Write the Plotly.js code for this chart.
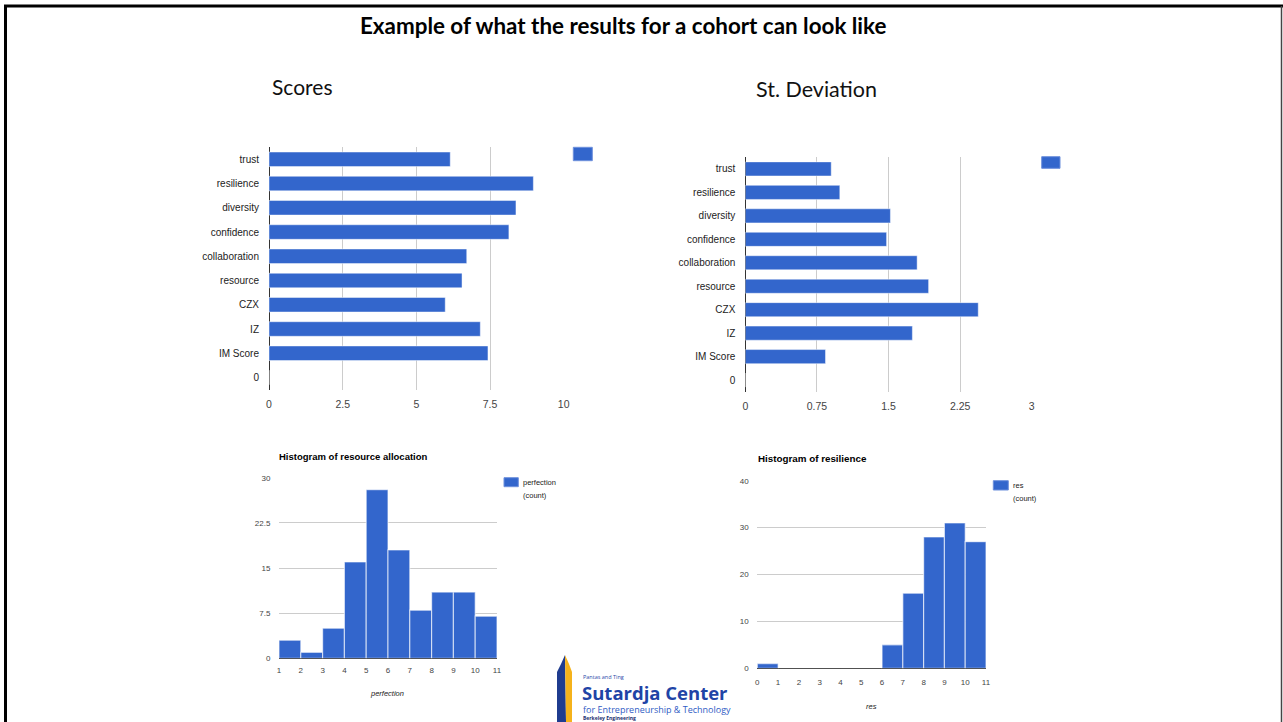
<!DOCTYPE html>
<html>
<head>
<meta charset="utf-8">
<script src="https://cdn.plot.ly/plotly-3.0.1.min.js"></script>
<style>
html,body{margin:0;padding:0;background:#fff;}
#chart{width:1283px;height:722px;}
</style>
</head>
<body>
<div id="chart"></div>
<script>
// ---------- data ----------
const categories = ['trust','resilience','diversity','confidence','collaboration','resource','CZX','IZ','IM Score','0'];
const scoreValues = [6.15, 8.97, 8.38, 8.14, 6.71, 6.55, 5.98, 7.17, 7.43, 0];
const stdevValues = [0.90, 0.99, 1.52, 1.48, 1.80, 1.92, 2.44, 1.75, 0.84, 0];

const scoreTicks = [0, 2.5, 5, 7.5, 10];
const scoreTickText = ['0','2.5','5','7.5','10'];
const stdevTicks = [0, 0.75, 1.5, 2.25, 3];
const stdevTickText = ['0','0.75','1.5','2.25','3'];

const resourceBinStarts = [1,2,3,4,5,6,7,8,9,10];
const resourceCounts    = [3,1,5,16,28,18,8,11,11,7];
const resourceXTicks = [1,2,3,4,5,6,7,8,9,10,11];
const resourceYTicks = [0,7.5,15,22.5,30];
const resourceYText  = ['0','7.5','15','22.5','30'];

const resilienceBinStarts = [0,1,2,3,4,5,6,7,8,9,10];
const resilienceCounts    = [1,0,0,0,0,0,5,16,28,31,27];
const resilienceXTicks = [0,1,2,3,4,5,6,7,8,9,10,11];
const resilienceYTicks = [0,10,20,30,40];

// ---------- helpers (pixel -> paper) ----------
const W = 1283, H = 722;
const fx = x => x / W;
const fy = y => 1 - y / H;

const BLUE = '#3366cc';
const SANS = '"Liberation Sans", Arial, sans-serif';
const BAR_LINE = {color: 'rgba(255,255,255,0.45)', width: 1};

const traces = [
  {type:'bar', orientation:'h', x: scoreValues, y: categories, xaxis:'x', yaxis:'y',
   width: 0.6, marker:{color: BLUE, line: BAR_LINE}, hoverinfo:'skip'},
  {type:'bar', orientation:'h', x: stdevValues, y: categories, xaxis:'x2', yaxis:'y2',
   width: 0.6, marker:{color: BLUE, line: BAR_LINE}, hoverinfo:'skip'},
  {type:'bar', x: resourceBinStarts, y: resourceCounts, xaxis:'x3', yaxis:'y3',
   width: 1, offset: 0, marker:{color: BLUE, line:{color:'rgba(255,255,255,0.6)', width:1.2}}, hoverinfo:'skip'},
  {type:'bar', x: resilienceBinStarts, y: resilienceCounts, xaxis:'x4', yaxis:'y4',
   width: 1, offset: 0, marker:{color: BLUE, line:{color:'rgba(255,255,255,0.6)', width:1.2}}, hoverinfo:'skip'}
];

const hbarX = (dom, rng, tv, tt) => ({
  domain: dom, range: rng, tickvals: tv, ticktext: tt,
  showgrid: true, gridcolor: '#cccccc', gridwidth: 1,
  zeroline: true, zerolinecolor: '#333333', zerolinewidth: 1,
  showline: false, ticks: 'outside', ticklen: 5, tickcolor: 'rgba(0,0,0,0)',
  tickfont: {family: SANS, size: 10.5, color: '#444444'}, fixedrange: true
});
const hbarY = (dom, anchor) => ({
  domain: dom, type: 'category', range: [9.5, -0.5], anchor: anchor,
  showgrid: false, zeroline: false, showline: false,
  ticks: 'outside', ticklen: 7, tickcolor: 'rgba(0,0,0,0)',
  tickfont: {family: SANS, size: 10, color: '#222222'}, fixedrange: true
});
const histFont = {family: SANS, size: 8, color: '#444'};

const layout = {
  width: W, height: H,
  margin: {l:0, r:0, t:0, b:0, pad:0},
  paper_bgcolor: '#ffffff', plot_bgcolor: 'rgba(0,0,0,0)',
  showlegend: false,
  font: {family: SANS, color: '#222'},

  xaxis: Object.assign(hbarX([fx(269), fx(563.7)], [0, 10], scoreTicks, scoreTickText), {anchor:'y'}),
  yaxis: hbarY([fy(389.6), fy(147.2)], 'x'),

  xaxis2: Object.assign(hbarX([fx(745.3), fx(1031.7)], [0, 3], stdevTicks, stdevTickText), {anchor:'y2'}),
  yaxis2: hbarY([fy(391.8), fy(157.2)], 'x2'),

  xaxis3: {domain: [fx(279), fx(497)], range: [1, 11], anchor: 'y3', tickvals: resourceXTicks,
           showgrid: false, zeroline: false, showline: false,
           ticks: 'outside', ticklen: 4, tickcolor: 'rgba(0,0,0,0)',
           tickfont: histFont, fixedrange: true},
  yaxis3: {domain: [fy(658.3), fy(477.7)], range: [0, 30], anchor: 'x3',
           tickvals: resourceYTicks, ticktext: resourceYText,
           showgrid: true, gridcolor: '#cccccc', zeroline: true, zerolinecolor: '#333333', zerolinewidth: 1,
           showline: false, ticks: 'outside', ticklen: 6, tickcolor: 'rgba(0,0,0,0)',
           tickfont: histFont, fixedrange: true},

  xaxis4: {domain: [fx(757.3), fx(986)], range: [0, 11], anchor: 'y4', tickvals: resilienceXTicks,
           showgrid: false, zeroline: false, showline: false,
           ticks: 'outside', ticklen: 6, tickcolor: 'rgba(0,0,0,0)',
           tickfont: histFont, fixedrange: true},
  yaxis4: {domain: [fy(668.3), fy(480.7)], range: [0, 40], anchor: 'x4',
           tickvals: resilienceYTicks,
           showgrid: true, gridcolor: '#cccccc', zeroline: true, zerolinecolor: '#333333', zerolinewidth: 1,
           showline: false, ticks: 'outside', ticklen: 6, tickcolor: 'rgba(0,0,0,0)',
           tickfont: histFont, fixedrange: true},

  shapes: [
    // slide border
    {type:'line', xref:'paper', yref:'paper', x0: fx(5.5), x1: fx(5.5), y0: fy(5), y1: fy(722), line:{color:'#000', width:3}},
    {type:'line', xref:'paper', yref:'paper', x0: fx(4), x1: fx(1283), y0: fy(6), y1: fy(6), line:{color:'#000', width:3}},
    {type:'line', xref:'paper', yref:'paper', x0: fx(1281.5), x1: fx(1281.5), y0: fy(6), y1: fy(722), line:{color:'#444', width:1.5}},
    // legend swatches
    {type:'rect', xref:'paper', yref:'paper', x0: fx(573.3), x1: fx(592.3), y0: fy(160.7), y1: fy(147.3), fillcolor: BLUE, line:{color:'#6d8fdc', width:1}},
    {type:'rect', xref:'paper', yref:'paper', x0: fx(1041.7), x1: fx(1060), y0: fy(168.3), y1: fy(156.7), fillcolor: BLUE, line:{color:'#6d8fdc', width:1}},
    {type:'rect', xref:'paper', yref:'paper', x0: fx(504), x1: fx(518.3), y0: fy(486.7), y1: fy(477.7), fillcolor: BLUE, line:{color:'#6d8fdc', width:1}},
    {type:'rect', xref:'paper', yref:'paper', x0: fx(993.3), x1: fx(1008.3), y0: fy(490), y1: fy(480.7), fillcolor: BLUE, line:{color:'#6d8fdc', width:1}},
    // logo tower
    {type:'path', xref:'paper', yref:'paper',
     path: `M ${fx(557)} ${fy(722)} L ${fx(557)} ${fy(672)} L ${fx(561)} ${fy(664)} L ${fx(565)} ${fy(655)} L ${fx(566)} ${fy(722)} Z`,
     fillcolor:'#1f3c8f', line:{width:0}},
    {type:'path', xref:'paper', yref:'paper',
     path: `M ${fx(565)} ${fy(655)} L ${fx(569)} ${fy(664)} L ${fx(572)} ${fy(672)} L ${fx(572)} ${fy(722)} L ${fx(566)} ${fy(722)} Z`,
     fillcolor:'#f5b21b', line:{width:0}}
  ],

  annotations: [
    {xref:'paper', yref:'paper', x: fx(622.5), y: fy(26), xanchor:'center', yanchor:'middle', showarrow:false,
     text:'Example of what the results for a cohort can look like',
     font:{family:'Lato, "Open Sans", sans-serif', size:22.4, weight:'bold', color:'#000'}},
    {xref:'paper', yref:'paper', x: fx(270), y: fy(87), xanchor:'left', yanchor:'middle', showarrow:false,
     text:'Scores', font:{family:'Lato, "Open Sans", sans-serif', size:21, color:'#111'}},
    {xref:'paper', yref:'paper', x: fx(754), y: fy(89), xanchor:'left', yanchor:'middle', showarrow:false,
     text:'St. Deviation', font:{family:'Lato, "Open Sans", sans-serif', size:21.5, color:'#111'}},

    {xref:'paper', yref:'paper', x: fx(277), y: fy(456.7), xanchor:'left', yanchor:'middle', showarrow:false,
     text:'Histogram of resource allocation', font:{family:SANS, size:9.5, weight:'bold', color:'#000'}},
    {xref:'paper', yref:'paper', x: fx(756), y: fy(458.3), xanchor:'left', yanchor:'middle', showarrow:false,
     text:'Histogram of resilience', font:{family:SANS, size:9.8, weight:'bold', color:'#000'}},

    {xref:'paper', yref:'paper', x: fx(520.5), y: fy(482.3), xanchor:'left', yanchor:'middle', showarrow:false,
     text:'perfection', font:{family:SANS, size:7.5, color:'#222'}},
    {xref:'paper', yref:'paper', x: fx(520.5), y: fy(495), xanchor:'left', yanchor:'middle', showarrow:false,
     text:'(count)', font:{family:SANS, size:7.5, color:'#222'}},
    {xref:'paper', yref:'paper', x: fx(1010.5), y: fy(485), xanchor:'left', yanchor:'middle', showarrow:false,
     text:'res', font:{family:SANS, size:7.5, color:'#222'}},
    {xref:'paper', yref:'paper', x: fx(1010.5), y: fy(498.3), xanchor:'left', yanchor:'middle', showarrow:false,
     text:'(count)', font:{family:SANS, size:7.5, color:'#222'}},

    {xref:'paper', yref:'paper', x: fx(387), y: fy(693.3), xanchor:'center', yanchor:'middle', showarrow:false,
     text:'<i>perfection</i>', font:{family:SANS, size:7.5, color:'#222'}},
    {xref:'paper', yref:'paper', x: fx(871.7), y: fy(706.7), xanchor:'center', yanchor:'middle', showarrow:false,
     text:'<i>res</i>', font:{family:SANS, size:7.5, color:'#222'}},

    // logo text
    {xref:'paper', yref:'paper', x: fx(581), y: fy(677), xanchor:'left', yanchor:'middle', showarrow:false,
     text:'Pantas and Ting', font:{family:'"Open Sans", sans-serif', size:5.5, color:'#2a4aa8'}},
    {xref:'paper', yref:'paper', x: fx(580), y: fy(692.5), xanchor:'left', yanchor:'middle', showarrow:false,
     text:'Sutardja Center', font:{family:'"Open Sans", sans-serif', size:18.5, weight:'bold', color:'#1f44a6'}},
    {xref:'paper', yref:'paper', x: fx(581), y: fy(709), xanchor:'left', yanchor:'middle', showarrow:false,
     text:'for Entrepreneurship &amp; Technology', font:{family:'"Open Sans", sans-serif', size:9, color:'#2f5cc4'}},
    {xref:'paper', yref:'paper', x: fx(581), y: fy(718), xanchor:'left', yanchor:'middle', showarrow:false,
     text:'Berkeley Engineering', font:{family:'"Open Sans", sans-serif', size:5, weight:'bold', color:'#1a2f70'}}
  ]
};

Plotly.newPlot('chart', traces, layout, {staticPlot: true, displayModeBar: false});
</script>
</body>
</html>
